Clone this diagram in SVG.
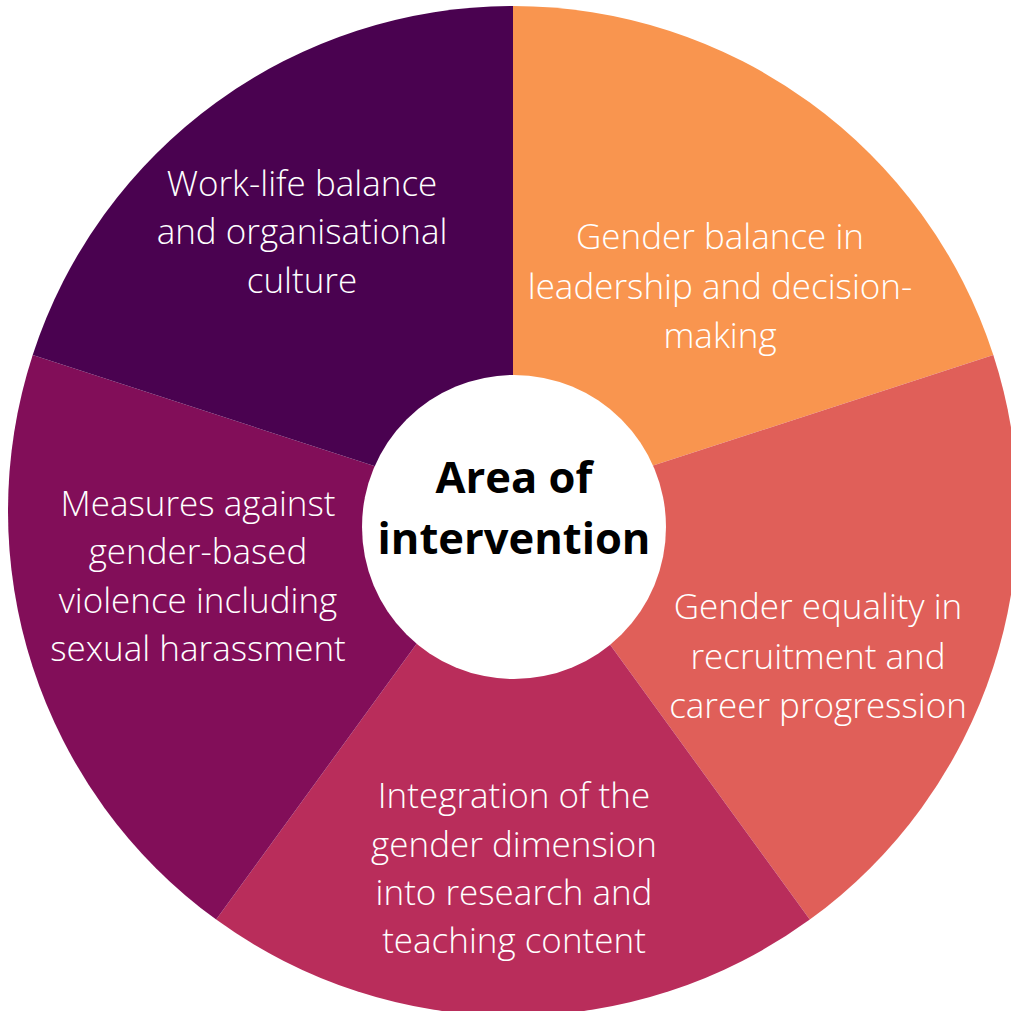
<svg xmlns="http://www.w3.org/2000/svg" width="1011" height="1011" viewBox="0 0 1011 1011">
<style>
.lbl{font-family:"Open Sans","Noto Sans","Liberation Sans",sans-serif;font-weight:300;font-size:35px;fill:#ffffff;text-anchor:middle}
.ctr{font-family:"Open Sans","Noto Sans","Liberation Sans",sans-serif;font-weight:700;font-size:43.5px;fill:#000000;text-anchor:middle}
</style>
<rect width="1011" height="1011" fill="#ffffff"/>
<g id="connectors"></g>
<g id="sector-leadership">
<path d="M513,511 L513,6 A505,505 0 0 1 993.3,355 Z" fill="#F9954F"/>
<text class="lbl" x="720" y="249">Gender balance in</text>
<text class="lbl" x="720" y="299">leadership and decision-</text>
<text class="lbl" x="720" y="348">making</text>
</g>
<g id="sector-recruitment">
<path d="M513,511 L993.3,355 A505,505 0 0 1 809.8,919.6 Z" fill="#E05F59"/>
<text class="lbl" x="818" y="619">Gender equality in</text>
<text class="lbl" x="818" y="669">recruitment and</text>
<text class="lbl" x="818" y="718">career progression</text>
</g>
<g id="sector-research">
<path d="M513,511 L809.8,919.6 A505,505 0 0 1 216.2,919.6 Z" fill="#B92D5B"/>
<text class="lbl" x="514" y="808">Integration of the</text>
<text class="lbl" x="514" y="857">gender dimension</text>
<text class="lbl" x="514" y="905">into research and</text>
<text class="lbl" x="514" y="953">teaching content</text>
</g>
<g id="sector-violence">
<path d="M513,511 L216.2,919.6 A505,505 0 0 1 32.7,355 Z" fill="#820E59"/>
<text class="lbl" x="198" y="516">Measures against</text>
<text class="lbl" x="198" y="564">gender-based</text>
<text class="lbl" x="198" y="613">violence including</text>
<text class="lbl" x="198" y="661">sexual harassment</text>
</g>
<g id="sector-worklife">
<path d="M513,511 L32.7,355 A505,505 0 0 1 513,6 Z" fill="#4A0250"/>
<text class="lbl" x="302" y="196">Work-life balance</text>
<text class="lbl" x="302" y="244">and organisational</text>
<text class="lbl" x="302" y="293">culture</text>
</g>
<g id="center">
<circle cx="514" cy="527" r="152" fill="#ffffff"/>
<text class="ctr" x="514" y="493">Area of</text>
<text class="ctr" x="514" y="554">intervention</text>
</g>
</svg>
